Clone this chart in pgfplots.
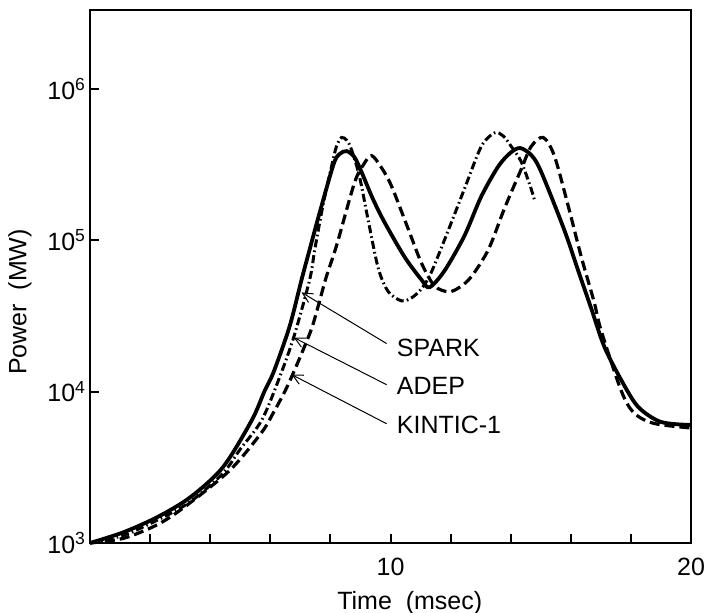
\documentclass[border=0pt]{standalone}
\usepackage{pgfplots}
\pgfplotsset{compat=1.18}
\usepackage{fontspec}
\setmainfont{Liberation Sans}
\usetikzlibrary{arrows.meta}
\begin{document}
\begin{tikzpicture}
\path[use as bounding box] (-45pt,-35pt) rectangle (307pt,271.5pt);
\begin{axis}[
  at={(0,0)}, anchor=south west,
  scale only axis, width=300.5pt, height=266.5pt,
  xmin=0, xmax=20, ymode=log, ymin=1e3, ymax=3.33e6,
  xtick={2,4,...,20}, xticklabels={,,,,10,,,,,20},
  ytick={1e3,1e4,1e5,1e6},
  yticklabels={10\textsuperscript{3},10\textsuperscript{4},10\textsuperscript{5},10\textsuperscript{6}},
  yminorticks=false, xminorticks=false,
  tick align=inside, xtick pos=bottom, ytick pos=left,
  major tick length=4.5pt,
  axis line style={line width=1.3pt},
  major tick style={line width=1pt, black},
  tick label style={font=\fontsize{12.5}{14}\selectfont},
  xticklabel style={yshift=-4pt},
  yticklabel style={xshift=1.5pt},
  clip=false,
]
% SPARK (solid)
\addplot[black, line width=1.9pt, smooth, tension=0.5] coordinates {
(0,1000) (1.1,1175) (2.23,1479) (3.32,1995) (4.42,3162) (5.38,6457) (5.8,10000) (6.11,13490) (6.64,26920) (7.04,54950) (7.31,87100) (7.61,144500) (8.1,316200) (8.3,371500) (8.54,389000) (8.8,354800) (9.04,281800) (9.4,190500) (9.8,131800) (10.47,77620) (11.03,54950) (11.3,48980) (11.8,63100) (12.46,107200) (13.02,195000) (13.59,309000) (14.0,380200) (14.32,407400) (14.7,363100) (15.02,281800) (15.78,117500) (16.28,60260) (16.68,35480) (17.11,19950) (17.67,12020) (18.24,7943) (19.0,6310) (20,6026)
};
% ADEP (dash-dot)
\addplot[black, line width=1.5pt, smooth, tension=0.5, dash pattern=on 4pt off 1.6pt on 0.8pt off 1.6pt] coordinates {
(0,1000) (1.1,1122) (2.23,1413) (3.32,1862) (4.42,2884) (5.0,4169) (5.71,6457) (6.28,12020) (6.78,22910) (7.31,54950) (7.48,87100) (7.77,177800) (8.04,309000) (8.2,416900) (8.37,478600) (8.55,457100) (8.7,398100) (8.97,263000) (9.27,131800) (9.6,64570) (9.93,45710) (10.37,39810) (10.7,41690) (11.03,47860) (11.36,61660) (11.93,117500) (12.46,218800) (13.02,416900) (13.46,512900) (13.75,489800) (14.02,416900) (14.35,331100) (14.68,218800) (14.8,182000)
};
% KINTIC-1 (dashed)
\addplot[black, line width=1.6pt, smooth, tension=0.5, dash pattern=on 5pt off 2.5pt] coordinates {
(0,1000) (1.1,1072) (2.23,1318) (3.16,1738) (4.65,3020) (5.71,5370) (6.1,7244) (6.48,10000) (6.78,13490) (7.1,19050) (7.38,26300) (7.6,37150) (7.85,56230) (8.1,79430) (8.27,102300) (8.8,239900) (9.1,316200) (9.37,363100) (9.7,302000) (10.03,229100) (10.6,117500) (11.03,70790) (11.46,50120) (11.93,45710) (12.3,48980) (12.69,57540) (13.26,87100) (13.79,162200) (14.35,295100) (14.68,416900) (15.08,478600) (15.45,363100) (15.91,169800) (16.35,77620) (16.78,38900) (17.0,25700) (17.67,10230) (18.1,7244) (18.77,6166) (20,5754)
};
\draw[line width=0.5pt, -{Straight Barb[length=5pt,width=5pt]}] (axis cs:9.87,20800) -- (axis cs:7.04,45300);
\draw[line width=0.5pt, -{Straight Barb[length=5pt,width=5pt]}] (axis cs:9.87,11120) -- (axis cs:6.78,22800);
\draw[line width=0.5pt, -{Straight Barb[length=5pt,width=5pt]}] (axis cs:9.87,6140) -- (axis cs:6.71,12970);
\node[anchor=west, font=\fontsize{12.5}{14}\selectfont] at (axis cs:9.98,19500) {SPARK};
\node[anchor=west, font=\fontsize{12.5}{14}\selectfont] at (axis cs:9.98,10960) {ADEP};
\node[anchor=west, font=\fontsize{12.5}{14}\selectfont] at (axis cs:9.98,6030) {KINTIC-1};
\node[font=\fontsize{12.5}{14}\selectfont] at (rel axis cs:0.532,0) [yshift=-30pt] {Time\ \ (msec)};
\node[font=\fontsize{12.5}{14}\selectfont, xshift=-35pt, rotate=90] at (rel axis cs:0,0.452) {Power\ \ (MW)};
\end{axis}
\end{tikzpicture}
\end{document}
